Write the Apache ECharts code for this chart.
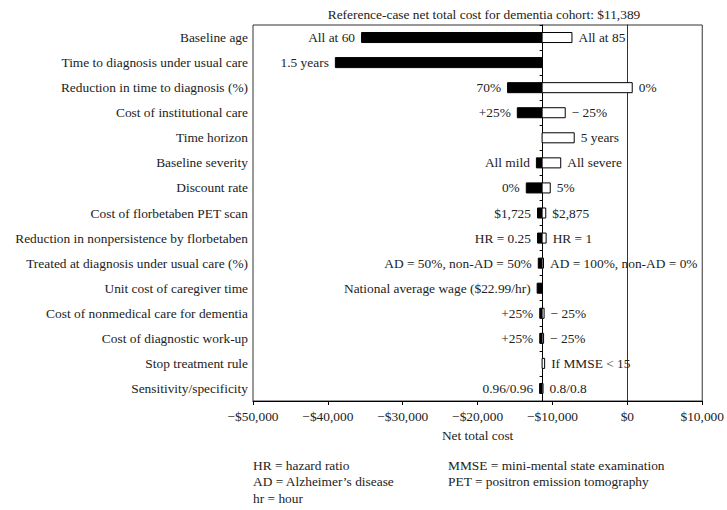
<!DOCTYPE html>
<html>
<head>
<meta charset="utf-8">
<script src="https://cdn.jsdelivr.net/npm/echarts@6/dist/echarts.min.js"></script>
<style>
  html, body { margin: 0; padding: 0; background: #fff; }
  #chart { width: 727px; height: 510px; }
</style>
</head>
<body>
<div id="chart"></div>
<script>
// One-way sensitivity analysis (tornado diagram) around the reference case
const referenceCost = -11389;

const categories = [
  'Baseline age',
  'Time to diagnosis under usual care',
  'Reduction in time to diagnosis (%)',
  'Cost of institutional care',
  'Time horizon',
  'Baseline severity',
  'Discount rate',
  'Cost of florbetaben PET scan',
  'Reduction in nonpersistence by florbetaben',
  'Treated at diagnosis under usual care (%)',
  'Unit cost of caregiver time',
  'Cost of nonmedical care for dementia',
  'Cost of diagnostic work-up',
  'Stop treatment rule',
  'Sensitivity/specificity'
];

// Net total cost at the low end of each parameter range (black bars)
const lowValues = [-35500, -39000, -16000, -14700, null, -12150, -13500, -12000, -12000, -11900, -12050, -11700, -11700, null, -11720];
// Net total cost at the high end of each parameter range (white bars)
const highValues = [-7400, null, 650, -8300, -7100, -8900, -10300, -10900, -10850, -11200, null, -11120, -11190, -11050, -11260];

const lowLabels = ['All at 60', '1.5 years', '70%', '+25%', '', 'All mild', '0%', '$1,725', 'HR = 0.25',
  'AD = 50%, non-AD = 50%', 'National average wage ($22.99/hr)', '+25%', '+25%', '', '0.96/0.96'];
const highLabels = ['All at 85', '', '0%', '\u2212 25%', '5 years', 'All severe', '5%', '$2,875', 'HR = 1',
  'AD = 100%, non-AD = 0%', '', '\u2212 25%', '\u2212 25%', 'If MMSE < 15', '0.8/0.8'];

const xTicks = { min: -50000, max: 10000, interval: 10000 };

const FONT = '"Liberation Serif", "DejaVu Serif", serif';
const TEXT = '#222';
const FS = 13.4;

function toData(values, labels) {
  const out = [];
  values.forEach((v, i) => { if (v !== null) out.push([i, v, labels[i]]); });
  return out;
}

const lowData = toData(lowValues, lowLabels);
const highData = toData(highValues, highLabels);

function makeRender(fill, side, src) {
  return function (params, api) {
    const cat = api.value(0);
    const val = api.value(1);
    const label = src[params.dataIndex][2];
    const p0 = api.coord([referenceCost, cat]);
    const p1 = api.coord([val, cat]);
    const h = api.size([0, 1])[1] * 0.4;
    const x = Math.min(p0[0], p1[0]);
    const w = Math.abs(p1[0] - p0[0]);
    return {
      type: 'rect',
      shape: { x: x, y: p0[1] - h / 2, width: w, height: h },
      style: { fill: fill, stroke: '#000', lineWidth: 1 },
      textContent: {
        style: { text: label, font: FS + 'px ' + FONT, fill: TEXT }
      },
      textConfig: { position: side, distance: 6 }
    };
  };
}

function money(v) {
  const s = '$' + Math.abs(v).toLocaleString('en-US');
  return v < 0 ? '\u2212' + s : s;
}

const gridLeft = 253, gridRight = 24, gridTop = 25, gridBottom = 109;
const gridWidth = 727 - gridLeft - gridRight;
// place the reference-case line at referenceCost on the value scale
const refOffset = -(referenceCost - xTicks.min) / (xTicks.max - xTicks.min) * gridWidth;

const chart = echarts.init(document.getElementById('chart'), null, { renderer: 'svg' });
chart.setOption({
  animation: false,
  backgroundColor: '#fff',
  textStyle: { fontFamily: FONT, color: TEXT },
  title: {
    text: 'Reference-case net total cost for dementia cohort: $11,389',
    left: 479, top: 3, textAlign: 'center',
    textStyle: { fontFamily: FONT, fontSize: FS, fontWeight: 'normal', color: TEXT }
  },
  grid: {
    left: gridLeft, right: gridRight, top: gridTop, bottom: gridBottom,
    show: true, borderColor: '#333', borderWidth: 1
  },
  xAxis: {
    type: 'value',
    min: xTicks.min, max: xTicks.max, interval: xTicks.interval,
    name: 'Net total cost', nameLocation: 'middle', nameGap: 28,
    nameTextStyle: { fontFamily: FONT, fontSize: FS, color: TEXT },
    axisLine: { show: true, lineStyle: { color: '#000', width: 1 } },
    axisTick: { show: true, length: 4, lineStyle: { color: '#000' } },
    axisLabel: { formatter: money, fontFamily: FONT, fontSize: FS, color: TEXT, margin: 9 },
    splitLine: { show: false }
  },
  yAxis: [
    {
      type: 'category', data: categories, inverse: true,
      axisLine: { show: true, lineStyle: { color: '#333' } },
      axisTick: { show: false },
      axisLabel: { fontFamily: FONT, fontSize: FS, color: TEXT, margin: 5 },
      splitLine: { show: false }
    },
    {
      type: 'category', data: categories, inverse: true,
      position: 'left', offset: refOffset,
      axisLine: { show: true, lineStyle: { color: '#000', width: 1 } },
      axisTick: { show: true, length: 3, lineStyle: { color: '#000' } },
      axisLabel: { show: false },
      splitLine: { show: false }
    }
  ],
  series: [
    {
      name: 'Low value', type: 'custom', renderItem: makeRender('#000', 'left', lowData),
      encode: { x: 1, y: 0 }, data: lowData, z: 3
    },
    {
      name: 'High value', type: 'custom', renderItem: makeRender('#fff', 'right', highData),
      encode: { x: 1, y: 0 }, data: highData, z: 3
    }
  ],
  graphic: [
    { type: 'text', left: 253, top: 459, style: { text: 'HR = hazard ratio', font: FS + 'px ' + FONT, fill: TEXT } },
    { type: 'text', left: 253, top: 475, style: { text: 'AD = Alzheimer\u2019s disease', font: FS + 'px ' + FONT, fill: TEXT } },
    { type: 'text', left: 253, top: 492, style: { text: 'hr = hour', font: FS + 'px ' + FONT, fill: TEXT } },
    { type: 'text', left: 448, top: 459, style: { text: 'MMSE = mini-mental state examination', font: FS + 'px ' + FONT, fill: TEXT } },
    { type: 'text', left: 448, top: 475, style: { text: 'PET = positron emission tomography', font: FS + 'px ' + FONT, fill: TEXT } }
  ]
});
</script>
</body>
</html>
